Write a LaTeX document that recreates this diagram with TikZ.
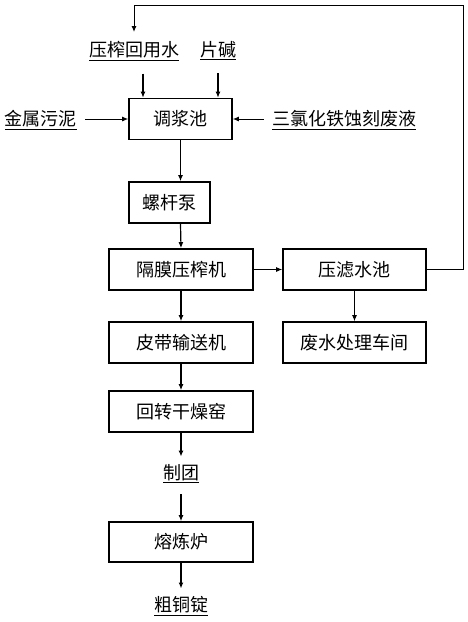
\documentclass[tikz,border=0pt]{standalone}
\usepackage{fontspec}
\setmainfont{Noto Sans CJK SC}
\usepackage{tikz}
\usetikzlibrary{arrows.meta}

\tikzset{
  box/.style={draw,line width=1.6pt,minimum height=41pt,inner sep=0pt,font=\fontsize{18}{18}\selectfont},
  lab/.style={inner sep=2pt,font=\fontsize{18}{18}\selectfont},
  arr/.style={line width=1.2pt,-{Latex[length=6pt,width=5pt]}}
}

\begin{document}
\begin{tikzpicture}[x=1pt,y=-1pt]
\useasboundingbox (0,0) rectangle (468,622);
% main line
\node (tiao) [box,minimum width=103pt] at (180.5,119) {调浆池};
\node (luo) [box,minimum width=81pt] at (169.5,202.5) {螺杆泵};
\node (gemo) [box,minimum width=144pt] at (181,269.5) {隔膜压榨机};
\node (pidai) [box,minimum width=144pt] at (181,342.5) {皮带输送机};
\node (huizhuan) [box,minimum width=144pt] at (181,411.5) {回转干燥窑};
\node (zhituan) [lab] at (181,474) {\underline{制团}};
\node (ronglian) [box,minimum width=144pt,minimum height=40pt] at (181,542) {熔炼炉};
\node (cutong) [lab] at (181,606) {\underline{粗铜锭}};
% water side
\node (lvshui) [box,minimum width=143pt] at (354.5,269.5) {压滤水池};
\node (feishui) [box,minimum width=143pt] at (354.5,342.5) {废水处理车间};
% inputs
\node (yazha) [lab] at (134,51) {\underline{压榨回用水}};
\node (pianjian) [lab] at (218,51) {\underline{片碱}};
\node (jinshu) [lab] at (41,120) {\underline{金属污泥}};
\node (sanlv) [lab] at (344,120) {\underline{三氯化铁蚀刻废液}};
\coordinate (top) at (463,5);
\coordinate (back) at (134,32);

\draw[arr] ([shift={(9,11)}]yazha.south) -- ([xshift=9]yazha.south |- tiao.north);
\draw[arr] ([yshift=-11]pianjian.south) -- (pianjian.south |- tiao.north);
\draw[arr,line width=1pt] ([xshift=6]jinshu.east |- tiao.west) -- (tiao.west);
\draw[arr,line width=1pt] ([xshift=-6]sanlv.west |- tiao.east) -- (tiao.east);
\draw[arr] (tiao.south) -- (tiao.south |- luo.north);
\draw[arr] (tiao.south |- luo.south) -- (gemo.north);
\draw[arr,line width=1pt] (gemo.east) -- (lvshui.west);
\draw[line width=1pt,-{Latex[length=6pt,width=5pt]}] (lvshui.east) -| (top) -| (back);
\draw[arr] (gemo.south) -- (pidai.north);
\draw[arr,line width=1pt] (lvshui.south) -- (feishui.north);
\draw[arr] (pidai.south) -- (huizhuan.north);
\draw[arr] (huizhuan.south) -- ([yshift=6]zhituan.north);
\draw[arr] ([yshift=-9]zhituan.south) -- (ronglian.north);
\draw[arr] (ronglian.south) -- ([yshift=6]cutong.north);
\end{tikzpicture}
\end{document}
